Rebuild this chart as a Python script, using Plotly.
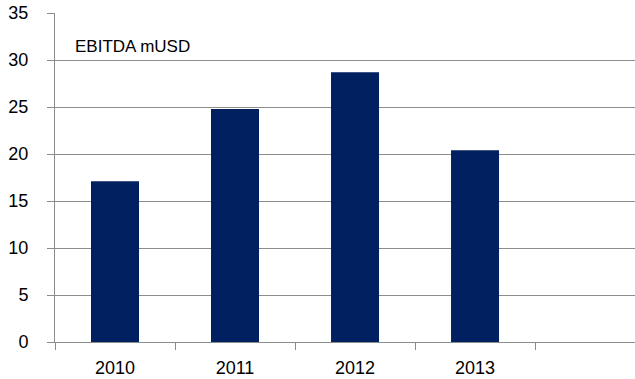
import plotly.graph_objects as go

# EBITDA by year (mUSD)
years = ["2010", "2011", "2012", "2013", ""]
ebitda = [17.1, 24.8, 28.7, 20.4, None]
y_ticks = [0, 5, 10, 15, 20, 25, 30, 35]

fig = go.Figure(
    go.Bar(
        x=years,
        y=ebitda,
        width=0.4,
        marker=dict(color="#002060", line=dict(width=0)),
        hoverinfo="x+y",
    )
)

fig.update_layout(
    width=635,
    height=379,
    margin=dict(l=55, r=0, t=13, b=37),
    paper_bgcolor="white",
    plot_bgcolor="white",
    showlegend=False,
    font=dict(family="Liberation Sans, Arial, sans-serif", size=18, color="#000000"),
    bargap=0.6,
)

fig.update_xaxes(
    type="category",
    range=[-0.5, 4.333],
    showgrid=False,
    showline=True,
    linecolor="#8c8c8c",
    linewidth=1,
    ticks="outside",
    tickson="boundaries",
    ticklen=7,
    tickcolor="#8c8c8c",
    ticklabelstandoff=9,
)

fig.update_yaxes(
    range=[0, 35],
    tickvals=y_ticks,
    showgrid=True,
    gridcolor="#8c8c8c",
    gridwidth=1,
    showline=True,
    linecolor="#8c8c8c",
    linewidth=1,
    ticks="outside",
    ticklen=7,
    tickcolor="#8c8c8c",
    ticklabelstandoff=15,
    zeroline=False,
)

fig.add_annotation(
    text="EBITDA mUSD",
    xref="paper",
    yref="paper",
    x=0.031,
    y=0.897,
    xanchor="left",
    yanchor="middle",
    showarrow=False,
    font=dict(size=17, color="#000000"),
)

fig.write_html("out.html")
